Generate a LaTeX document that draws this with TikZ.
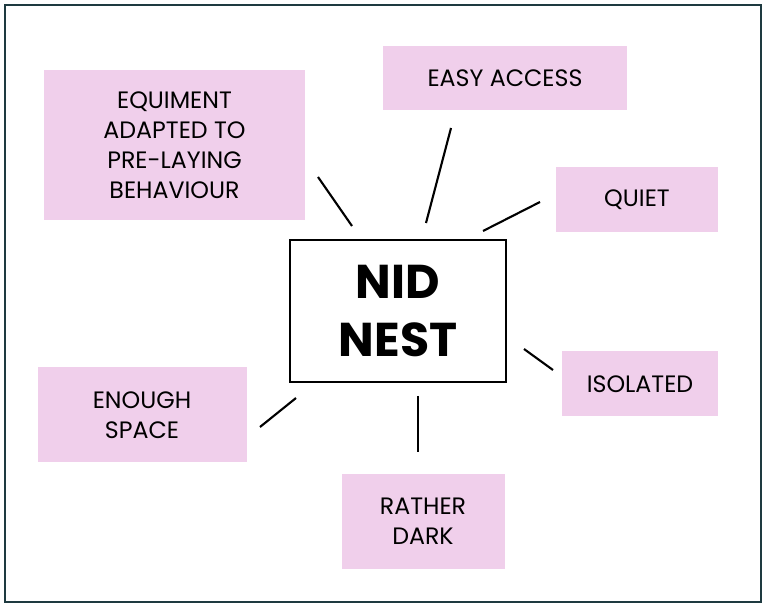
\documentclass[tikz,border=0pt]{standalone}
\usepackage{fontspec}
\setmainfont{Poppins}
\definecolor{nestpink}{HTML}{F0CFEB}
\definecolor{frameteal}{HTML}{1E3A40}
\tikzset{
  tag/.style={fill=nestpink, minimum width=#1, align=center, font=\fontsize{13.5}{17}\selectfont},
  spoke/.style={line width=1.2pt}
}
\begin{document}
\begin{tikzpicture}[x=0.02cm,y=-0.02cm]
  \useasboundingbox (0,0) rectangle (767,607);
  \draw[frameteal, line width=1.2pt] (5,5) rectangle (761,602);

  % labels round the nest
  \node[tag=261*0.02cm, minimum height=150*0.02cm] (equip) at (174.5,145) {EQUIMENT\\ADAPTED TO\\PRE-LAYING\\BEHAVIOUR};
  \node[tag=244*0.02cm, minimum height=64*0.02cm] (access) at (505,78) {EASY ACCESS};
  \node[tag=162*0.02cm, minimum height=65*0.02cm] (quiet) at (637,200) {QUIET};
  \node[tag=156*0.02cm, minimum height=65*0.02cm] (isolated) at (640,384) {ISOLATED};
  \node[tag=209*0.02cm, minimum height=95*0.02cm] (space) at (142,415) {ENOUGH\\SPACE};
  \node[tag=163*0.02cm, minimum height=95*0.02cm] (dark) at (423,521) {RATHER\\DARK};

  \node[draw, line width=1.4pt, minimum width=216*0.02cm, minimum height=142*0.02cm,
        align=center, font=\fontsize{27}{33}\selectfont\bfseries] (nest) at (398,311) {NID\\NEST};

  % spokes
  \coordinate (a1) at (318,177); \coordinate (a2) at (352,226);
  \coordinate (b1) at (451,128); \coordinate (b2) at (426,223);
  \coordinate (c1) at (540,202); \coordinate (c2) at (483,231);
  \coordinate (d1) at (524,349); \coordinate (d2) at (553,370);
  \coordinate (e1) at (296,398); \coordinate (e2) at (260,427);
  \coordinate (f1) at (418,396); \coordinate (f2) at (418,452);
  \foreach \s in {a,b,c,d,e,f}
    \draw[spoke] (\s1) -- (\s2);
\end{tikzpicture}
\end{document}
